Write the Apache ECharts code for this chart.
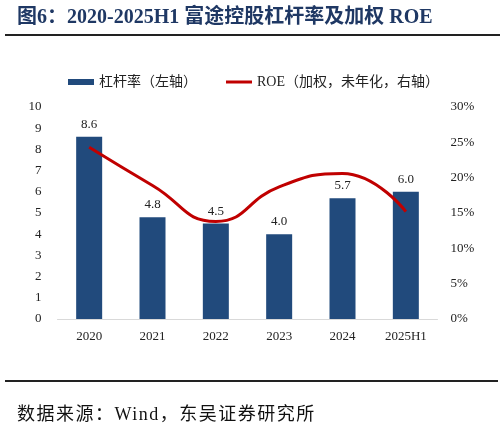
<!DOCTYPE html>
<html><head><meta charset="utf-8">
<script src="https://cdn.jsdelivr.net/npm/echarts@6/dist/echarts.min.js"></script>
<style>
html,body{margin:0;padding:0;background:#fff;}
#wrap{position:relative;width:504px;height:428px;overflow:hidden;}
#title{position:absolute;left:17px;top:3.5px;line-height:24px;font-family:"Liberation Serif","Noto Sans CJK SC",serif;font-weight:bold;font-size:20px;color:#1F3864;white-space:nowrap;}
#l1{position:absolute;left:5px;top:34px;width:495px;height:2px;background:#222;}
#l2{position:absolute;left:5px;top:380px;width:493px;height:2px;background:#222;}
#src{position:absolute;left:17px;top:404px;line-height:20px;font-family:"Liberation Serif","Noto Sans CJK SC",serif;font-size:18px;letter-spacing:1.5px;color:#111;white-space:nowrap;}
#c{position:absolute;left:0;top:0;width:504px;height:428px;}
</style></head>
<body><div id="wrap">
<div id="c"></div>
<div id="title">图6：2020-2025H1 富途控股杠杆率及加权 ROE</div>
<div id="l1"></div>
<div id="l2"></div>
<div id="src">数据来源：Wind，东吴证券研究所</div>
</div>
<script>
const categories = ['2020','2021','2022','2023','2024','2025H1'];
const leverage = [8.6, 4.8, 4.5, 4.0, 5.7, 6.0];
const roe = [24.3, 18.9, 13.8, 18.7, 20.6, 15.2];
const leftTicks = [0, 10, 1];
const rightTicks = [0, 30, 5];

const font = '"Liberation Serif","Noto Sans CJK SC",serif';
const chart = echarts.init(document.getElementById('c'));
chart.setOption({
  animation:false,
  textStyle:{fontFamily:font},
  legend:{
    top:70, left:63,
    itemGap:29, itemWidth:26, itemHeight:6,
    textStyle:{fontFamily:font,fontSize:14,color:'#222'},
    data:[
      {name:'杠杆率（左轴）',icon:'rect'},
      {name:'ROE（加权，未年化，右轴）',icon:'path://M0,0 L26,0 L26,3 L0,3 Z'}
    ]
  },
  grid:{left:57.5,right:66.5,top:107,bottom:109},
  xAxis:{
    type:'category', data:categories,
    axisLine:{lineStyle:{color:'#d9d9d9',width:1}},
    axisTick:{show:false},
    axisLabel:{color:'#222',fontSize:13,fontFamily:font,margin:11}
  },
  yAxis:[
    {type:'value',min:leftTicks[0],max:leftTicks[1],interval:leftTicks[2],
     splitLine:{show:false},axisLine:{show:false},axisTick:{show:false},
     axisLabel:{color:'#222',fontSize:13,fontFamily:font,margin:16}},
    {type:'value',min:rightTicks[0],max:rightTicks[1],interval:rightTicks[2],
     splitLine:{show:false},axisLine:{show:false},axisTick:{show:false},
     axisLabel:{color:'#222',fontSize:13,fontFamily:font,margin:13,formatter:'{value}%'}}
  ],
  series:[
    {name:'杠杆率（左轴）',type:'bar',data:leverage,barWidth:26,
     itemStyle:{color:'#214A7C'},
     label:{show:true,position:'top',distance:6,color:'#222',fontSize:13,fontFamily:font,
       formatter:p=>p.value.toFixed(1)}},
    {name:'ROE（加权，未年化，右轴）',type:'line',yAxisIndex:1,data:roe,smooth:true,
     symbol:'none',lineStyle:{color:'#C00000',width:3},itemStyle:{color:'#C00000'}}
  ]
});
</script>
</body></html>
